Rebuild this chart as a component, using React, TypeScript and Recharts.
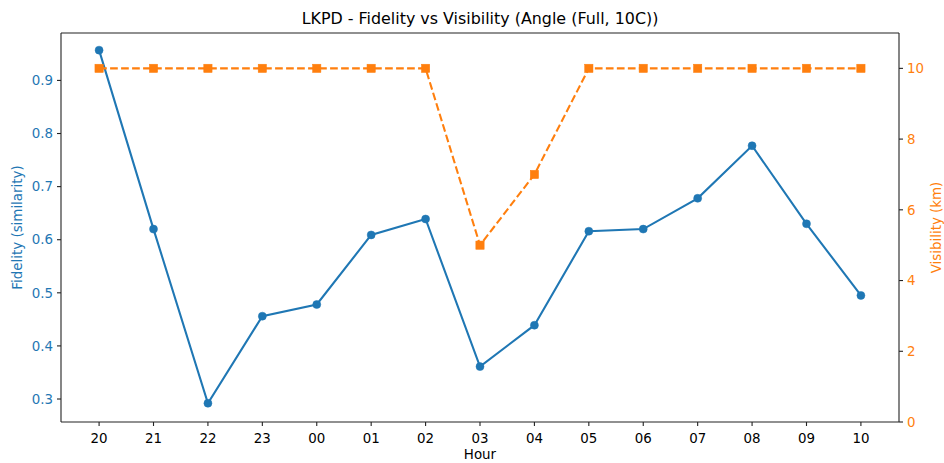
import React from 'react';
import { ComposedChart, Line, XAxis, YAxis, ReferenceLine } from 'recharts';

const hours = ['20', '21', '22', '23', '00', '01', '02', '03', '04', '05', '06', '07', '08', '09', '10'];
const fidelity = [0.957, 0.62, 0.292, 0.456, 0.478, 0.609, 0.639, 0.361, 0.439, 0.616, 0.62, 0.678, 0.777, 0.63, 0.495];
const visibility = [10, 10, 10, 10, 10, 10, 10, 5, 7, 10, 10, 10, 10, 10, 10];
const fidelityTicks = [0.3, 0.4, 0.5, 0.6, 0.7, 0.8, 0.9];
const visibilityTicks = [0, 2, 4, 6, 8, 10];
const xTicks = hours.map((_, i) => i);

const data = hours.map((h, i) => ({ idx: i, hour: h, fidelity: fidelity[i], visibility: visibility[i] }));

const BLUE = '#1f77b4';
const ORANGE = '#ff7f0e';
const FONT = 'DejaVu Sans';
const TICK_FS = 13.4;

const SquareDot = (props: any) => {
  const { cx, cy } = props;
  if (cx == null || cy == null) return null;
  const s = 8.3;
  return <rect x={cx - s / 2} y={cy - s / 2} width={s} height={s} fill={ORANGE} stroke={ORANGE} strokeWidth={0.5} />;
};

const LeftLabel = (props: any) => {
  const vb = props.viewBox || {};
  const cy = (vb.y ?? 33) + (vb.height ?? 389) / 2;
  const x = 17.5;
  return (
    <text x={x} y={cy} transform={`rotate(-90 ${x} ${cy})`} textAnchor="middle" dominantBaseline="central"
      fill={BLUE} fontFamily={FONT} fontSize={TICK_FS}>Fidelity (similarity)</text>
  );
};

const RightLabel = (props: any) => {
  const vb = props.viewBox || {};
  const cy = (vb.y ?? 33) + (vb.height ?? 389) / 2;
  const x = 936;
  return (
    <text x={x} y={cy} transform={`rotate(-90 ${x} ${cy})`} textAnchor="middle" dominantBaseline="central"
      fill={ORANGE} fontFamily={FONT} fontSize={TICK_FS}>Visibility (km)</text>
  );
};

const BottomLabel = (props: any) => {
  const vb = props.viewBox || {};
  const cx = (vb.x ?? 61) + (vb.width ?? 838) / 2;
  return (
    <text x={cx} y={459} textAnchor="middle" fill="#000" fontFamily={FONT} fontSize={TICK_FS}>Hour</text>
  );
};

export default function App() {
  return (
    <div style={{ position: 'absolute', left: 0, top: 0, width: 944, height: 463, background: '#fff' }}>
      <svg width={944} height={30} style={{ position: 'absolute', left: 0, top: 0 }}>
        <text x={480} y={24} textAnchor="middle" fill="#000" fontFamily={FONT} fontSize={15.9}>
          LKPD - Fidelity vs Visibility (Angle (Full, 10C))
        </text>
      </svg>
      <ComposedChart width={944} height={463} data={data} margin={{ top: 33, right: 0, bottom: 0, left: 0 }}>
        <XAxis
          xAxisId="bottom"
          dataKey="idx"
          type="number"
          domain={[-0.7, 14.7]}
          ticks={xTicks}
          interval={0}
          allowDataOverflow
          tickFormatter={(v: number) => hours[v] ?? ''}
          height={41}
          axisLine={{ stroke: '#222', strokeWidth: 1.1 }}
          tickLine={{ stroke: '#222', strokeWidth: 1.1 }}
          tickSize={4}
          tickMargin={7.5}
          tick={{ fill: '#000', fontFamily: FONT, fontSize: TICK_FS }}
          label={<BottomLabel />}
        />
        <YAxis
          yAxisId="left"
          orientation="left"
          width={61}
          type="number"
          domain={[0.2567, 0.9893]}
          ticks={fidelityTicks}
          allowDataOverflow
          interval={0}
          tickFormatter={(v: number) => v.toFixed(1)}
          axisLine={{ stroke: '#222', strokeWidth: 1.1 }}
          tickLine={{ stroke: '#222', strokeWidth: 1.1 }}
          tickSize={4}
          tickMargin={4}
          tick={{ fill: BLUE, fontFamily: FONT, fontSize: TICK_FS }}
          label={<LeftLabel />}
        />
        <YAxis
          yAxisId="right"
          orientation="right"
          width={45}
          type="number"
          domain={[0, 11]}
          ticks={visibilityTicks}
          allowDataOverflow
          interval={0}
          axisLine={{ stroke: '#222', strokeWidth: 1.1 }}
          tickLine={{ stroke: '#222', strokeWidth: 1.1 }}
          tickSize={4}
          tickMargin={4}
          tick={{ fill: ORANGE, fontFamily: FONT, fontSize: TICK_FS }}
          label={<RightLabel />}
        />
        <ReferenceLine xAxisId="bottom" yAxisId="right" y={11} stroke="#222" strokeWidth={1.1} ifOverflow="visible" />
        <Line
          xAxisId="bottom"
          yAxisId="left"
          type="linear"
          dataKey="fidelity"
          stroke={BLUE}
          strokeWidth={2.08}
          dot={{ r: 4, fill: BLUE, stroke: BLUE, strokeWidth: 0.5 }}
          activeDot={false}
          isAnimationActive={false}
        />
        <Line
          xAxisId="bottom"
          yAxisId="right"
          type="linear"
          dataKey="visibility"
          stroke={ORANGE}
          strokeWidth={2.08}
          strokeDasharray="7.7 3.3"
          dot={<SquareDot />}
          activeDot={false}
          isAnimationActive={false}
        />
      </ComposedChart>
    </div>
  );
}
